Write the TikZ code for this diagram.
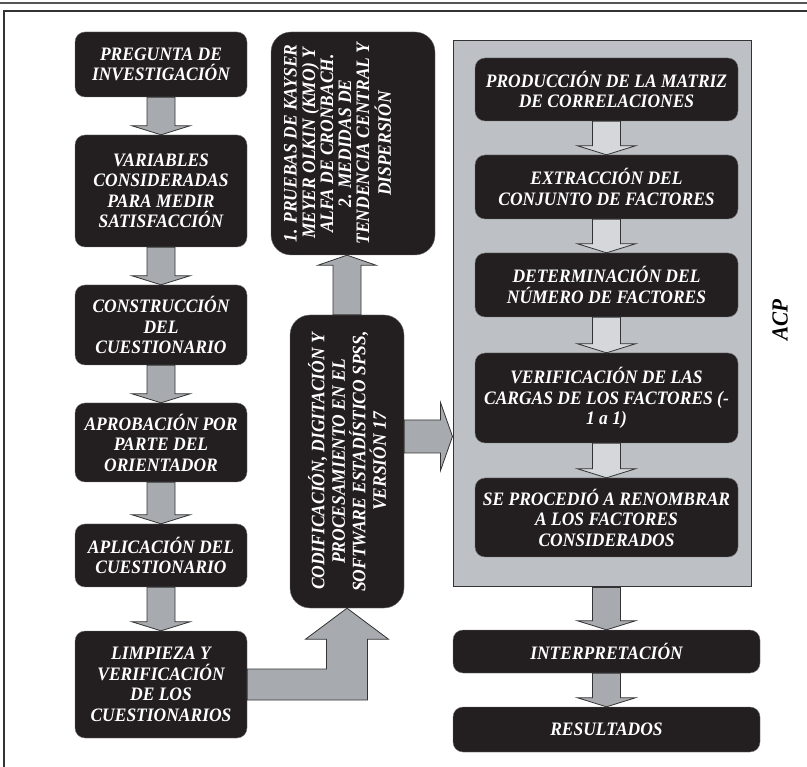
\documentclass[tikz,border=0pt]{standalone}
\usepackage{fontspec}
\setmainfont[FakeStretch=0.92]{Liberation Serif}
\usetikzlibrary{calc}
\definecolor{boxblack}{RGB}{35,31,32}
\definecolor{arrowgray}{RGB}{167,170,174}
\definecolor{arrowlight}{RGB}{213,216,219}
\definecolor{panelgray}{RGB}{189,192,196}
\definecolor{rulegray}{RGB}{85,85,85}
\newcommand{\boxfont}{\fontsize{19}{20.5}\selectfont\bfseries\itshape}
\tikzset{
  caja/.style={rectangle,rounded corners=10pt,draw=black!55,fill=boxblack,
               text=white,align=center,font=\boxfont,inner sep=3pt},
  etapa/.style={caja,minimum width=#1},
  etapa/.default=172pt,
  giro/.style={caja,rotate=90,rounded corners=20pt},
  blockline/.style={draw=black!80,line width=0.8pt},
}
% block arrows between anchors
\newcommand{\blockdown}[3]{%
  \draw[blockline,fill=#3] let \p1=(#1), \p2=(#2) in
    (\x2-14pt,\y1) -- (\x2-14pt,\y2+9pt) -- (\x2-29pt,\y2+9pt) -- (\x2,\y2)
    -- (\x2+29pt,\y2+9pt) -- (\x2+14pt,\y2+9pt) -- (\x2+14pt,\y1) -- cycle;}
\newcommand{\blockup}[3]{%
  \draw[blockline,fill=#3] let \p1=(#1), \p2=(#2) in
    (\x1-14pt,\y1) -- (\x1-14pt,\y2-10pt) -- (\x1-29pt,\y2-10pt) -- (\x1,\y2)
    -- (\x1+29pt,\y2-10pt) -- (\x1+14pt,\y2-10pt) -- (\x1+14pt,\y1) -- cycle;}

\begin{document}
\begin{tikzpicture}[x=1pt,y=-1pt]
    \useasboundingbox (0,0) rectangle (807,767);

    % page rule and frame
    \draw[rulegray,line width=2pt] (0,3) -- (807,3);
    \draw[black!80,line width=1.3pt] (4,767) |- (807,11);

    % ACP panel
    \node[draw=black!80,line width=1pt,fill=panelgray,inner sep=0pt,
          minimum width=298pt,minimum height=546pt] (acp) at (602,314) {};
    \node[font=\fontsize{23}{25}\selectfont\bfseries\itshape,rotate=90] (acplbl) at (780,320) {ACP};

    % left column
    \node[etapa,minimum height=65pt]  (preg)  at (161,64.5)  {PREGUNTA DE\\INVESTIGACIÓN};
    \node[etapa,minimum height=112pt] (vars)  at (161,191)   {VARIABLES\\CONSIDERADAS\\PARA MEDIR\\SATISFACCIÓN};
    \node[etapa,minimum height=80pt]  (cons)  at (161,325)   {CONSTRUCCIÓN\\DEL\\CUESTIONARIO};
    \node[etapa,minimum height=79pt]  (aprob) at (161,442.5) {APROBACIÓN POR\\PARTE DEL\\ORIENTADOR};
    \node[etapa,minimum height=63pt]  (aplic) at (161,555.5) {APLICACIÓN DEL\\CUESTIONARIO};
    \node[etapa,minimum height=107pt] (limp)  at (161,684.5) {LIMPIEZA Y\\VERIFICACIÓN\\DE LOS\\CUESTIONARIOS};

    % middle column
    \node[giro,inner xsep=2pt,inner ysep=13pt] (pruebas) at (353,143.5)
        {\parbox[c][138pt][t]{219pt}{\centering\fontsize{19}{18}\selectfont
         \begin{tabular}{@{}c@{}}1. PRUEBAS DE KAYSER\\MEYER OLKIN (KMO) Y\\ALFA DE CRONBACH.\\2. MEDIDAS DE\\TENDENCIA CENTRAL Y\\DISPERSIÓN\end{tabular}}};
    \node[giro,minimum width=293pt,minimum height=114pt] (codif) at (347,461.5)
        {CODIFICACIÓN, DIGITACIÓN Y\\PROCESAMIENTO EN EL\\SOFTWARE ESTADÍSTICO SPSS,\\VERSIÓN 17};

    % inside ACP
    \node[etapa=263pt,minimum height=63pt] (prod)  at (606.5,89.5)  {PRODUCCIÓN DE LA MATRIZ\\DE CORRELACIONES};
    \node[etapa=263pt,minimum height=64pt] (extr)  at (606.5,187)   {EXTRACCIÓN DEL\\CONJUNTO DE FACTORES};
    \node[etapa=263pt,minimum height=64pt] (det)   at (606.5,285)   {DETERMINACIÓN DEL\\NÚMERO DE FACTORES};
    \node[etapa=263pt,minimum height=90pt] (verif) at (606.5,398)   {VERIFICACIÓN DE LAS\\CARGAS DE LOS FACTORES (-\\1 a 1)};
    \node[etapa=263pt,minimum height=79pt] (proc)  at (606.5,517.5) {SE PROCEDIÓ A RENOMBRAR\\A LOS FACTORES\\CONSIDERADOS};

    % bottom right
    \node[etapa=307pt,minimum height=43pt] (interp) at (606.5,651.5) {INTERPRETACIÓN};
    \node[etapa=307pt,minimum height=45pt] (result) at (606.5,729.5) {RESULTADOS};

    % arrows
    \foreach \a/\b in {preg/vars,vars/cons,cons/aprob,aprob/aplic,aplic/limp,interp/result}
      \blockdown{\a.south}{\b.north}{arrowgray};
    \foreach \a/\b in {prod/extr,extr/det,det/verif,verif/proc}
      \blockdown{\a.south}{\b.north}{arrowlight};
    \blockdown{acp.south}{interp.north}{arrowgray}

    \blockup{codif.east}{pruebas.west}{arrowgray}

    % limpieza -> codificacion (elbow)
    \draw[blockline,fill=arrowgray] let \p1=(limp.east), \p2=(codif.west) in
      (\x1,\y1+15.5pt) -- (\x2-20.5pt,\y1+15.5pt) -- (\x2-20.5pt,\y2-31pt)
      -- (\x2-41.5pt,\y2-31pt) -- (\x2,\y2) -- (\x2+41.5pt,\y2-31pt)
      -- (\x2+20.5pt,\y2-31pt) -- (\x2+20.5pt,\y1-15.5pt) -- (\x1,\y1-15.5pt) -- cycle;

    % codificacion -> ACP
    \draw[blockline,fill=arrowgray] let \p1=(codif.south), \p2=(acp.west) in
      (\x1,\y1+41.5pt) -- (\x2-12pt,\y1+41.5pt) -- (\x2-12pt,\y1+59pt) -- (\x2,\y1+25pt)
      -- (\x2-12pt,\y1-9pt) -- (\x2-12pt,\y1+8.5pt) -- (\x1,\y1+8.5pt) -- cycle;

  \end{tikzpicture}
\end{document}
